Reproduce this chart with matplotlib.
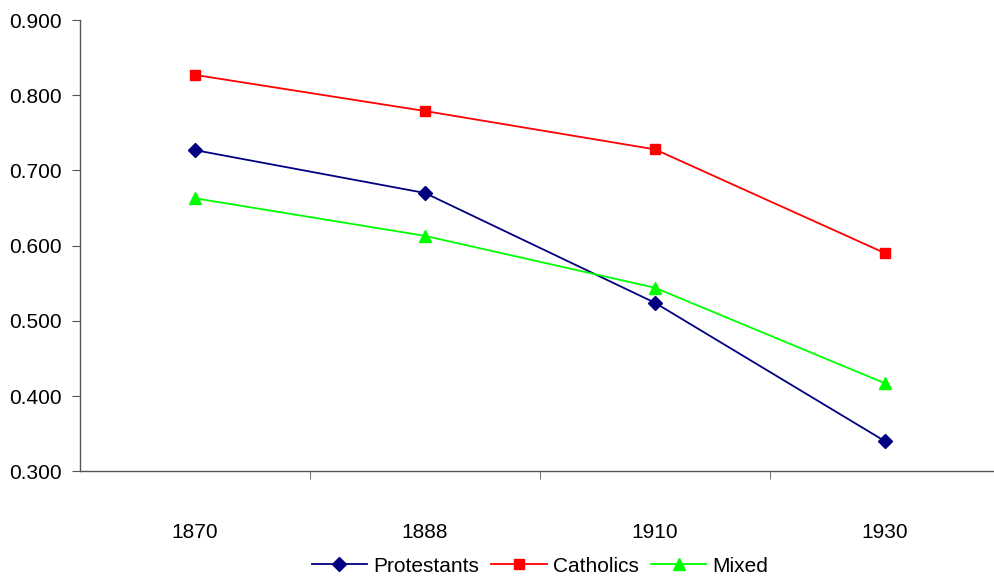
import matplotlib
matplotlib.use("Agg")
import matplotlib.pyplot as plt

plt.rcParams['font.family'] = ['Liberation Sans', 'DejaVu Sans']

years = ["1870", "1888", "1910", "1930"]
protestants = [0.727, 0.670, 0.524, 0.340]
catholics = [0.827, 0.779, 0.728, 0.590]
mixed = [0.663, 0.613, 0.544, 0.417]

W, H = 994, 583
fig = plt.figure(figsize=(W/100, H/100), dpi=100)
ax = fig.add_axes([80/W, 1 - 471.3/H, (994-80)/W, (471.3-20)/H])

x = list(range(len(years)))
ax.plot(x, protestants, color='#000080', marker='D', markersize=7, lw=1.3, label='Protestants')
ax.plot(x, catholics, color='#FF0000', marker='s', markersize=7.5, lw=1.3, label='Catholics')
ax.plot(x, mixed, color='#00FF00', marker='^', markersize=9, lw=1.3, label='Mixed')

fs = 15
ax.set_ylim(0.3, 0.9)
yt = [0.3, 0.4, 0.5, 0.6, 0.7, 0.8, 0.9]
ax.set_yticks(yt)
ax.set_yticklabels([f"{v:.3f}" for v in yt], fontsize=fs)
ax.set_xlim(-0.5, 3.5 - 6/230)
ax.set_xticks(x)
ax.set_xticklabels(years, fontsize=fs)
ax.tick_params(axis='x', length=0, pad=37)
ax.set_xticks([0.5, 1.5, 2.5], minor=True)
ax.tick_params(axis='x', which='minor', length=6, direction='out', color='#555555')
ax.tick_params(axis='y', length=6, direction='out', color='#555555', pad=7)

for s in ['top', 'right']:
    ax.spines[s].set_visible(False)
for s in ['left', 'bottom']:
    ax.spines[s].set_color('#555555')
    ax.spines[s].set_linewidth(1.0)

fig.legend(loc='center', bbox_to_anchor=(540/W, 1 - 566/H), ncol=3, frameon=False,
           fontsize=fs, handlelength=2.65, columnspacing=0.6, handletextpad=0.3)

fig.savefig("out.png", dpi=100)
